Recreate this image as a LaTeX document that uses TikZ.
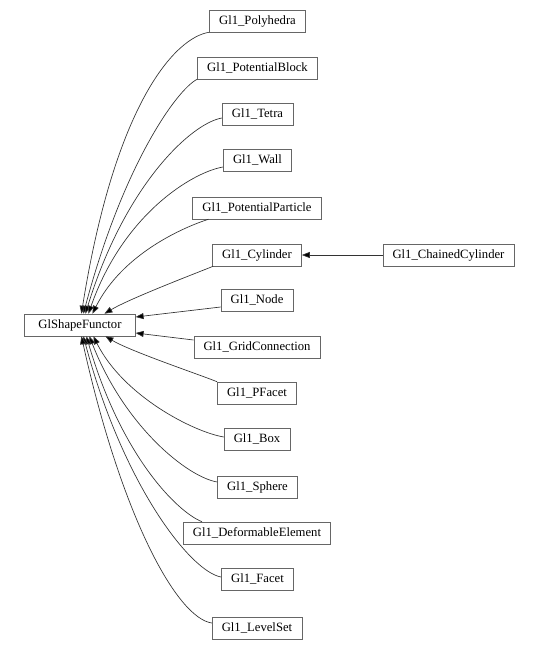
\documentclass[tikz,border=0pt]{standalone}
\usepackage{fontspec}
\setmainfont{Liberation Serif}
\usetikzlibrary{arrows.meta,calc}

\begin{document}
\begin{tikzpicture}[x=0.75pt, y=-0.75pt,
    cls/.style={draw=black!60, fill=white, font=\fontsize{9.5}{11}\selectfont,
        inner xsep=7.3pt, inner ysep=0pt, minimum height=16.5pt},
    inh/.style={draw=black!80, line width=0.5pt, -{Triangle[length=6pt,width=4.5pt,fill=black]}}]
    \useasboundingbox (0,0) rectangle (541,650);
    % base class and derived classes
    \node[cls, minimum width=83pt] (gsf) at (80,325) {GlShapeFunctor};
    \node[cls] (poly)    at (257.5,21)  {Gl1\_Polyhedra};
    \node[cls] (pblock)  at (257.5,68)  {Gl1\_PotentialBlock};
    \node[cls] (tetra)   at (257.5,114) {Gl1\_Tetra};
    \node[cls] (wall)    at (257.5,160) {Gl1\_Wall};
    \node[cls] (ppart)   at (257,208)   {Gl1\_PotentialParticle};
    \node[cls] (cyl)     at (257,255)   {Gl1\_Cylinder};
    \node[cls] (chcyl)   at (448.5,255) {Gl1\_ChainedCylinder};
    \node[cls] (gnode)   at (257,300)   {Gl1\_Node};
    \node[cls] (gridc)   at (257,347)   {Gl1\_GridConnection};
    \node[cls] (pfacet)  at (257,393)   {Gl1\_PFacet};
    \node[cls] (box)     at (257,439)   {Gl1\_Box};
    \node[cls] (sphere)  at (257.5,487) {Gl1\_Sphere};
    \node[cls] (deform)  at (257,533)   {Gl1\_DeformableElement};
    \node[cls] (facet)   at (257.5,579) {Gl1\_Facet};
    \node[cls] (lset)    at (257,628)   {Gl1\_LevelSet};
    % inheritance edges, upper half
    \draw[inh] (poly.south west) .. controls +(-33,5) and +(34,-213) .. ($(gsf.north west)+(57,0)$);
    \draw[inh] (pblock.south west) .. controls +(-20,10) and +(40,-150) .. ($(gsf.north west)+(59,0)$);
    \draw[inh] ($(tetra.west)+(0,4)$) .. controls +(-30,5) and +(40,-130) .. ($(gsf.north west)+(61,0)$);
    \draw[inh] ($(wall.west)+(0,7)$) .. controls +(-30,5) and +(35,-100) .. ($(gsf.north west)+(64,0)$);
    \draw[inh] ($(ppart.south west)+(16,0)$) .. controls +(-25,8) and +(30,-60) .. ($(gsf.north west)+(68,0)$);
    \draw[inh] ($(cyl.south west)+(1,0)$) .. controls +(-20,8) and +(25,-15) .. ($(gsf.north west)+(80,0)$);
    \draw[inh] ($(gnode.west)+(0,7)$) -- ($(gsf.east)+(0,-8)$);
    \draw[inh] (chcyl) -- (cyl);
    % lower half
    \draw[inh] ($(gridc.west)+(0,-7)$) -- ($(gsf.east)+(0,8)$);
    \draw[inh] (pfacet.north west) .. controls +(-20,-8) and +(25,15) .. ($(gsf.south west)+(81,0)$);
    \draw[inh] ($(box.west)+(0,-2)$) .. controls +(-30,-5) and +(30,60) .. ($(gsf.south west)+(69,0)$);
    \draw[inh] ($(sphere.west)+(0,-5)$) .. controls +(-30,-5) and +(35,90) .. ($(gsf.south west)+(65,0)$);
    \draw[inh] ($(deform.north west)+(19,0)$) .. controls +(-25,-10) and +(35,120) .. ($(gsf.south west)+(62,0)$);
    \draw[inh] ($(facet.west)+(0,-2)$) .. controls +(-30,-5) and +(40,150) .. ($(gsf.south west)+(59,0)$);
    \draw[inh] ($(lset.west)+(0,-5)$) .. controls +(-35,-5) and +(40,180) .. ($(gsf.south west)+(57,0)$);
\end{tikzpicture}
\end{document}
